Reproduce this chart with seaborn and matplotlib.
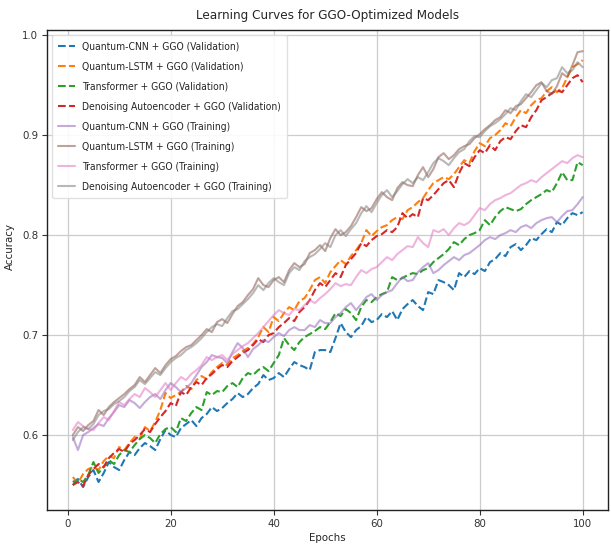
import numpy as np
import pandas as pd
import matplotlib
matplotlib.use("Agg")
import matplotlib.pyplot as plt
from matplotlib import font_manager as fm
import seaborn as sns

epochs = list(range(1, 101))

qcnn_val = [
    .553, .556, .548, .558, .565, .553, .562, .573, .568, .565,
    .575, .583, .580, .587, .592, .589, .585, .596, .605, .600,
    .598, .607, .611, .615, .609, .617, .621, .628, .624, .627,
    .632, .636, .642, .638, .641, .647, .651, .660, .655, .657,
    .662, .658, .666, .673, .670, .668, .665, .683, .685, .685,
    .683, .697, .712, .703, .698, .705, .709, .718, .713, .715,
    .721, .718, .724, .715, .726, .731, .735, .729, .725, .743,
    .741, .755, .753, .750, .745, .762, .758, .764, .761, .767,
    .764, .773, .776, .782, .779, .788, .791, .785, .790, .797,
    .795, .801, .806, .803, .813, .810, .817, .822, .820, .823]

qlstm_val = [
    .558, .552, .561, .566, .568, .565, .574, .579, .577, .588,
    .585, .592, .598, .596, .608, .604, .613, .625, .642, .637,
    .640, .643, .649, .646, .655, .659, .656, .663, .668, .672,
    .670, .677, .680, .684, .687, .691, .698, .708, .703, .718,
    .714, .722, .728, .725, .734, .737, .745, .755, .758, .752,
    .763, .769, .775, .771, .779, .785, .792, .805, .799, .804,
    .808, .810, .815, .818, .816, .825, .828, .833, .837, .845,
    .852, .855, .858, .856, .861, .868, .875, .872, .884, .892,
    .889, .897, .900, .905, .912, .909, .918, .925, .922, .930,
    .935, .937, .944, .948, .943, .947, .958, .968, .971, .975]

trans_val = [
    .550, .556, .553, .560, .573, .562, .568, .575, .571, .580,
    .585, .583, .590, .596, .600, .597, .592, .601, .606, .608,
    .603, .617, .614, .622, .628, .625, .643, .640, .644, .643,
    .649, .652, .648, .657, .662, .660, .665, .668, .664, .672,
    .680, .697, .690, .685, .693, .698, .701, .704, .708, .706,
    .713, .722, .719, .726, .722, .715, .728, .735, .733, .738,
    .741, .743, .758, .755, .757, .760, .762, .761, .765, .767,
    .773, .777, .781, .786, .793, .790, .796, .800, .802, .805,
    .815, .810, .818, .824, .828, .826, .824, .826, .831, .835,
    .838, .841, .845, .843, .852, .863, .855, .855, .873, .870]

dae_val = [
    .550, .553, .549, .560, .566, .571, .568, .577, .582, .586,
    .583, .591, .595, .600, .606, .603, .611, .618, .624, .632,
    .629, .643, .640, .648, .653, .650, .657, .661, .666, .670,
    .668, .674, .678, .682, .685, .690, .696, .693, .700, .702,
    .708, .712, .717, .714, .723, .728, .735, .745, .752, .748,
    .755, .762, .758, .770, .776, .782, .792, .789, .795, .799,
    .801, .805, .803, .808, .822, .817, .821, .818, .837, .835,
    .840, .846, .852, .855, .848, .862, .872, .869, .878, .885,
    .882, .890, .885, .894, .898, .896, .904, .910, .908, .918,
    .925, .935, .938, .942, .945, .943, .950, .957, .960, .953]

qcnn_train = [
    .598, .585, .600, .603, .607, .611, .609, .617, .623, .630,
    .628, .635, .632, .627, .633, .638, .641, .636, .645, .652,
    .648, .643, .647, .652, .660, .668, .673, .680, .678, .677,
    .672, .683, .692, .687, .678, .686, .690, .695, .693, .698,
    .702, .699, .705, .708, .705, .705, .710, .708, .715, .712,
    .712, .718, .722, .728, .732, .725, .731, .738, .741, .735,
    .740, .743, .745, .752, .758, .754, .755, .763, .768, .772,
    .762, .765, .770, .774, .778, .775, .780, .782, .786, .790,
    .795, .798, .796, .800, .802, .805, .803, .808, .810, .807,
    .812, .815, .817, .818, .813, .819, .824, .825, .831, .838]

qlstm_train = [
    .600, .608, .604, .610, .614, .625, .620, .628, .633, .637,
    .641, .646, .650, .658, .653, .660, .667, .662, .670, .676,
    .679, .684, .688, .690, .695, .700, .706, .703, .713, .716,
    .712, .721, .729, .733, .740, .746, .757, .750, .748, .755,
    .758, .753, .765, .772, .768, .771, .782, .785, .790, .784,
    .797, .806, .800, .803, .809, .818, .828, .824, .827, .836,
    .843, .838, .835, .847, .853, .850, .849, .860, .868, .858,
    .866, .878, .882, .876, .880, .886, .889, .891, .897, .901,
    .906, .910, .915, .918, .925, .922, .929, .931, .937, .943,
    .950, .953, .944, .941, .949, .962, .958, .970, .983, .984]

trans_train = [
    .605, .613, .609, .606, .605, .612, .618, .615, .624, .633,
    .630, .636, .641, .638, .647, .643, .638, .645, .652, .645,
    .652, .658, .655, .661, .665, .670, .678, .675, .678, .680,
    .675, .681, .685, .689, .692, .697, .702, .708, .714, .720,
    .725, .722, .720, .726, .725, .730, .735, .732, .737, .741,
    .746, .752, .749, .751, .750, .758, .765, .762, .766, .768,
    .773, .778, .775, .781, .785, .789, .788, .798, .792, .788,
    .805, .803, .806, .800, .807, .812, .810, .813, .820, .827,
    .825, .831, .835, .837, .840, .842, .846, .850, .852, .855,
    .853, .858, .862, .866, .870, .874, .872, .877, .880, .878]

dae_train = [
    .595, .603, .608, .606, .611, .620, .624, .626, .631, .634,
    .638, .644, .648, .655, .651, .657, .663, .660, .667, .673,
    .677, .680, .685, .688, .692, .697, .703, .708, .711, .709,
    .717, .724, .726, .731, .736, .742, .750, .745, .752, .757,
    .753, .750, .762, .768, .765, .774, .778, .781, .786, .792,
    .788, .800, .805, .799, .806, .812, .822, .829, .823, .832,
    .840, .845, .838, .844, .851, .856, .852, .858, .855, .863,
    .872, .877, .874, .870, .877, .883, .886, .894, .899, .898,
    .904, .909, .912, .916, .921, .927, .925, .934, .941, .938,
    .945, .952, .948, .955, .957, .968, .962, .965, .973, .968]

val_names = ["Quantum-CNN + GGO (Validation)", "Quantum-LSTM + GGO (Validation)",
             "Transformer + GGO (Validation)", "Denoising Autoencoder + GGO (Validation)"]
train_names = ["Quantum-CNN + GGO (Training)", "Quantum-LSTM + GGO (Training)",
               "Transformer + GGO (Training)", "Denoising Autoencoder + GGO (Training)"]
val_series = [qcnn_val, qlstm_val, trans_val, dae_val]
train_series = [qcnn_train, qlstm_train, trans_train, dae_train]

sns.set_style("ticks")

# pick a narrow font if one is installed
fonts = fm.fontManager.ttflist
names = {f.name for f in fonts}
cond_dejavu = any(f.name == "DejaVu Sans" and str(f.stretch) in ("condensed", "semi-condensed", "600")
                  for f in fonts)
if "Liberation Sans Narrow" in names:
    plt.rcParams['font.family'] = ['Liberation Sans Narrow', 'DejaVu Sans']
    scale = 1.05
elif cond_dejavu:
    plt.rcParams['font.family'] = ['DejaVu Sans']
    plt.rcParams['font.stretch'] = 'condensed'
    scale = 1.0
else:
    plt.rcParams['font.family'] = ['Liberation Sans', 'DejaVu Sans']
    scale = 0.95

pal = sns.color_palette("tab10")

fig = plt.figure(figsize=(6.11, 5.49), dpi=100)
ax = fig.add_axes([0.077, 0.071, 0.918, 0.874])

for i, (name, vals) in enumerate(zip(val_names, val_series)):
    df = pd.DataFrame({"Epoch": epochs, "Accuracy": vals})
    sns.lineplot(data=df, x="Epoch", y="Accuracy", ax=ax, color=pal[i],
                 linestyle="--", linewidth=1.5, label=name)
for i, (name, vals) in enumerate(zip(train_names, train_series)):
    df = pd.DataFrame({"Epoch": epochs, "Accuracy": vals})
    sns.lineplot(data=df, x="Epoch", y="Accuracy", ax=ax, color=pal[i + 4],
                 linestyle="-", linewidth=1.5, alpha=0.55, label=name)

ax.set_xticks([0, 20, 40, 60, 80, 100])
ax.set_yticks([0.6, 0.7, 0.8, 0.9, 1.0])
ax.set_xlim(-4.0, 104.9)
ax.set_ylim(0.525, 1.005)
ax.grid(True, color="#cccccc", linewidth=0.9)
for s in ax.spines.values():
    s.set_color("#222222")
    s.set_linewidth(1.0)
ax.tick_params(labelsize=8.2 * scale, colors="#333333", pad=3)
ax.set_title("Learning Curves for GGO-Optimized Models", fontsize=9.6 * scale, pad=8)
ax.set_xlabel("Epochs", fontsize=8.2 * scale, labelpad=3)
ax.set_ylabel("Accuracy", fontsize=8.2 * scale)
ax.yaxis.set_label_coords(-0.058, 0.55)
ax.legend(loc="upper left", fontsize=7.4 * scale, handlelength=1.6, handletextpad=0.7,
          labelspacing=0.98, framealpha=0.9, edgecolor="#dddddd", borderpad=0.6)

fig.savefig("out.png", dpi=100)
